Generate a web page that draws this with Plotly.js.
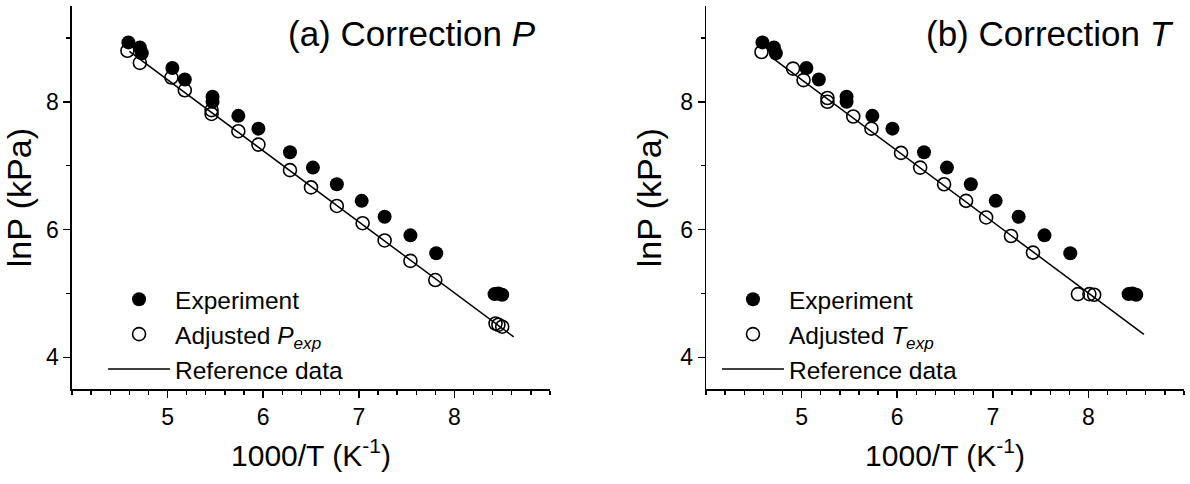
<!DOCTYPE html>
<html>
<head>
<meta charset="utf-8">
<script src="https://cdn.plot.ly/plotly-3.0.1.min.js"></script>
<style>
html,body{margin:0;padding:0;background:#fff;}
#chart{width:1190px;height:484px;}
</style>
</head>
<body>
<div id="chart"></div>
<script>
// Experimental points (same in both panels)
var expX = [4.59, 4.71, 4.73, 5.05, 5.18, 5.47, 5.47, 5.74, 5.95, 6.28, 6.52, 6.77, 7.03, 7.27, 7.54, 7.81, 8.42, 8.46, 8.50];
var expY = [8.93, 8.85, 8.76, 8.53, 8.35, 8.08, 8.00, 7.78, 7.58, 7.21, 6.97, 6.71, 6.45, 6.20, 5.91, 5.63, 4.99, 5.00, 4.98];

// Panel (a): adjusted pressure
var adjPX = [4.58, 4.71, 5.04, 5.18, 5.46, 5.46, 5.74, 5.95, 6.28, 6.50, 6.77, 7.04, 7.27, 7.54, 7.80, 8.43, 8.46, 8.50];
var adjPY = [8.80, 8.61, 8.38, 8.18, 7.87, 7.81, 7.54, 7.33, 6.93, 6.66, 6.37, 6.10, 5.83, 5.51, 5.21, 4.53, 4.51, 4.48];

// Panel (b): adjusted temperature
var adjTX = [4.58, 4.91, 5.02, 5.27, 5.27, 5.54, 5.73, 6.04, 6.24, 6.49, 6.72, 6.93, 7.19, 7.42, 7.89, 8.01, 8.06];
var adjTY = [8.78, 8.52, 8.34, 8.06, 8.00, 7.77, 7.58, 7.20, 6.97, 6.71, 6.45, 6.19, 5.90, 5.64, 4.99, 4.99, 4.98];

// Reference data lines
var refAX = [4.60, 8.62];
var refAY = [8.79, 4.32];
var refBX = [4.70, 8.58];
var refBY = [8.68, 4.36];

var xTickVals = [5, 6, 7, 8];
var yTickVals = [4, 6, 8];

var FONT = 'Liberation Sans, Arial, sans-serif';

function expTrace(xa, ya, leg) {
  return {x: expX, y: expY, xaxis: xa, yaxis: ya, legend: leg, type: 'scatter', mode: 'markers',
    name: 'Experiment', marker: {symbol: 'circle', size: 14, color: '#000', line: {width: 0}}};
}

var traces = [
  expTrace('x', 'y', 'legend'),
  {x: adjPX, y: adjPY, xaxis: 'x', yaxis: 'y', legend: 'legend', type: 'scatter', mode: 'markers',
   name: 'Adjusted <i>P<sub>exp</sub></i>',
   marker: {symbol: 'circle-open', size: 13, color: '#000', line: {width: 1.6, color: '#000'}}},
  {x: refAX, y: refAY, xaxis: 'x', yaxis: 'y', legend: 'legend', type: 'scatter', mode: 'lines',
   name: 'Reference data', line: {color: '#000', width: 1.5}},
  expTrace('x2', 'y2', 'legend2'),
  {x: adjTX, y: adjTY, xaxis: 'x2', yaxis: 'y2', legend: 'legend2', type: 'scatter', mode: 'markers',
   name: 'Adjusted <i>T<sub>exp</sub></i>',
   marker: {symbol: 'circle-open', size: 13, color: '#000', line: {width: 1.6, color: '#000'}}},
  {x: refBX, y: refBY, xaxis: 'x2', yaxis: 'y2', legend: 'legend2', type: 'scatter', mode: 'lines',
   name: 'Reference data', line: {color: '#000', width: 1.5}}
];

function xAxis(domain, anchor) {
  return {domain: domain, anchor: anchor, range: [4, 9], tickmode: 'array', tickvals: xTickVals,
    showline: true, linecolor: '#000', linewidth: 1.5, mirror: false,
    ticks: 'outside', ticklen: 7, tickwidth: 1.5, tickcolor: '#000',
    minor: {tickmode: 'linear', tick0: 4, dtick: 0.2, ticks: 'outside', ticklen: 4, tickwidth: 1.3, tickcolor: '#000', showgrid: false},
    showgrid: false, zeroline: false,
    tickfont: {size: 23, family: FONT, color: '#000'},
    title: {text: '1000/T (K<sup>-1</sup>)', font: {size: 30, family: FONT, color: '#000'}, standoff: 15},
    automargin: false};
}
function yAxis(domain, anchor) {
  return {domain: domain, anchor: anchor, range: [3.5, 9.5], tickmode: 'array', tickvals: yTickVals,
    showline: true, linecolor: '#000', linewidth: 1.5, mirror: false,
    ticks: 'outside', ticklen: 7, tickwidth: 1.5, tickcolor: '#000',
    minor: {tickmode: 'linear', tick0: 3, dtick: 1, ticks: 'outside', ticklen: 4, tickwidth: 1.3, tickcolor: '#000', showgrid: false},
    showgrid: false, zeroline: false,
    tickfont: {size: 23, family: FONT, color: '#000'},
    title: {text: 'lnP (kPa)', font: {size: 34, family: FONT, color: '#000'}, standoff: 8},
    automargin: false};
}

var yDom = [0.1957, 0.9876];
var layout = {
  width: 1190, height: 484,
  margin: {l: 0, r: 0, t: 0, b: 0},
  paper_bgcolor: '#fff', plot_bgcolor: '#fff',
  font: {family: FONT, color: '#000'},
  showlegend: true,
  xaxis: xAxis([0.0605, 0.4622], 'y'),
  yaxis: yAxis(yDom, 'x'),
  xaxis2: xAxis([0.5933, 0.995], 'y2'),
  yaxis2: yAxis(yDom, 'x2'),
  legend: {x: 0.0866, y: 0.428, xanchor: 'left', yanchor: 'top', bgcolor: 'rgba(0,0,0,0)',
    borderwidth: 0, font: {size: 24.5, family: FONT, color: '#000'}, itemwidth: 62, tracegroupgap: 0},
  legend2: {x: 0.6025, y: 0.428, xanchor: 'left', yanchor: 'top', bgcolor: 'rgba(0,0,0,0)',
    borderwidth: 0, font: {size: 24.5, family: FONT, color: '#000'}, itemwidth: 62, tracegroupgap: 0},
  annotations: [
    {text: '(a) Correction <i>P</i>', xref: 'paper', yref: 'paper', x: 538/1190, y: (484-33)/484,
     xanchor: 'right', yanchor: 'middle', showarrow: false, font: {size: 35, family: FONT, color: '#000'}},
    {text: '(b) Correction <i>T</i>', xref: 'paper', yref: 'paper', x: 1176/1190, y: (484-33)/484,
     xanchor: 'right', yanchor: 'middle', showarrow: false, font: {size: 35, family: FONT, color: '#000'}}
  ]
};

Plotly.newPlot('chart', traces, layout, {displayModeBar: false, staticPlot: true});
</script>
</body>
</html>
